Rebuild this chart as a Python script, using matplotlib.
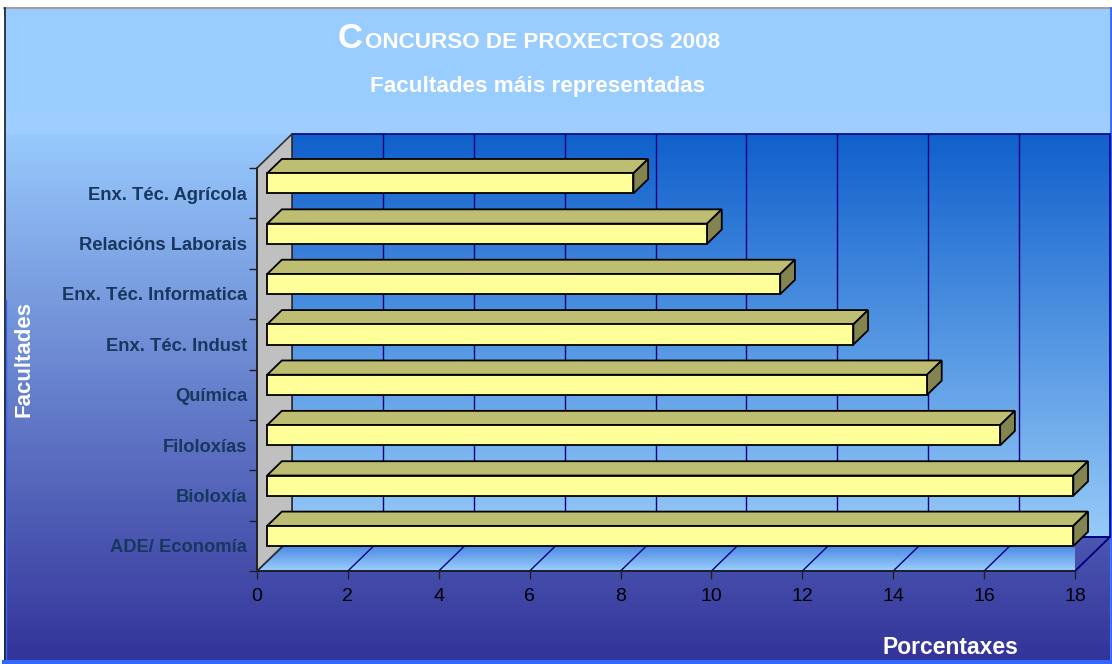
import numpy as np
import matplotlib
matplotlib.use('Agg')
import matplotlib.pyplot as plt
from matplotlib.patches import Polygon, Rectangle
from matplotlib.colors import to_rgb

plt.rcParams['font.family'] = ['Liberation Sans', 'DejaVu Sans']

# data (bottom to top, as drawn)
categories = ['ADE/ Economía', 'Bioloxía', 'Filoloxías', 'Química',
              'Enx. Téc. Indust', 'Enx. Téc. Informatica',
              'Relacións Laborais', 'Enx. Téc. Agrícola']
values = [17.74, 17.74, 16.13, 14.52, 12.90, 11.29, 9.68, 8.06]
xticks = [0, 2, 4, 6, 8, 10, 12, 14, 16, 18]

W, H = 1112, 664
fig = plt.figure(figsize=(W / 100, H / 100), dpi=100)
fig.patch.set_facecolor('white')


def vgrad(c_top, c_bot, n=256):
    a, b = np.array(to_rgb(c_top)), np.array(to_rgb(c_bot))
    t = np.linspace(0, 1, n)[:, None]
    return (a + (b - a) * t)[:, None, :]


# --- chart area background (pixel space) ---
bg = fig.add_axes([0, 0, 1, 1], zorder=0)
bg.set_xlim(0, W)
bg.set_ylim(H, 0)
bg.axis('off')
rows = np.arange(8, 661)
top_c, bot_c = np.array(to_rgb('#99CCFF')), np.array(to_rgb('#333399'))
t = np.clip((rows - 125) / (661 - 125), 0, 1)[:, None]
img = (top_c + (bot_c - top_c) * t)[:, None, :]
bg.imshow(img, extent=(4, 1110, 661, 8), aspect='auto', zorder=0)
bg.add_patch(Rectangle((4, 112), 1106, 22, color='#9DCEFF', lw=0, zorder=1))
bg.plot([4, 1110], [7.5, 7.5], color='#A0A0A0', lw=1.5, zorder=2)
bg.plot([4.5, 4.5], [8, 661], color='#202020', lw=1.2, zorder=2)
bg.plot([6, 6], [300, 661], color='#3366FF', lw=1.0, zorder=2)
bg.plot([4, 1112], [662, 662], color='#3366FF', lw=3, zorder=2)
bg.plot([1111, 1111], [8, 664], color='#3366FF', lw=2, zorder=2)

# --- main axes: front plane of the 3D box ---
ax = fig.add_axes([257 / W, (H - 571) / H, 818 / W, 403 / H], zorder=2)
ax.set_autoscale_on(False)
ax.set_xlim(0, 18)
ax.set_ylim(-0.5, 7.5)
ax.patch.set_visible(False)

DX = 35 / 818 * 18     # depth offset in x units
DY = 34 / 403 * 8      # depth offset in category units
y0, y1 = -0.5, len(categories) - 0.5
NAVY = '#000080'

# back wall
wall = ax.imshow(vgrad('#1060CC', '#96CAF8'), extent=(DX, 18 + DX, y0 + DY, y1 + DY),
                 aspect='auto', origin='upper', zorder=1)
wall.set_clip_on(False)
ax.add_patch(Polygon([(DX, y0 + DY), (18 + DX, y0 + DY), (18 + DX, y1 + DY), (DX, y1 + DY)],
                     closed=True, fill=False, ec=NAVY, lw=1.2, clip_on=False, zorder=2))
for x in xticks[1:-1]:
    ax.plot([x + DX, x + DX], [y0 + DY, y1 + DY], color=NAVY, lw=1, clip_on=False, zorder=2)

# floor
floor_poly = Polygon([(0, y0), (18, y0), (18 + DX, y0 + DY), (DX, y0 + DY)],
                     closed=True, transform=ax.transData)
fl = ax.imshow(vgrad('#2F6FDA', '#9CD0FB'), extent=(0, 18 + DX, y0, y0 + DY),
               aspect='auto', origin='upper', zorder=1)
fl.set_clip_path(floor_poly)
ax.add_patch(Polygon([(0, y0), (18, y0), (18 + DX, y0 + DY), (DX, y0 + DY)],
                     closed=True, fill=False, ec=NAVY, lw=1.2, clip_on=False, zorder=2))
for x in xticks:
    ax.plot([x, x + DX], [y0, y0 + DY], color=NAVY, lw=1, clip_on=False, zorder=2)

# side wall
ax.add_patch(Polygon([(0, y0), (DX, y0 + DY), (DX, y1 + DY), (0, y1)],
                     closed=True, fc='#C0C0C0', ec='#303030', lw=1.2,
                     clip_on=False, zorder=3))

# bars
f1, f2, h = 0.29, 0.71, 0.2
for i, v in enumerate(values):
    a1, b1 = f1 * DX, f1 * DY
    a2, b2 = f2 * DX, f2 * DY
    top = Polygon([(a1, i + h + b1), (v + a1, i + h + b1),
                   (v + a2, i + h + b2), (a2, i + h + b2)],
                  closed=True, fc='#BEBE72', ec='black', lw=1.3, clip_on=False, zorder=5)
    side = Polygon([(v + a1, i - h + b1), (v + a2, i - h + b2),
                    (v + a2, i + h + b2), (v + a1, i + h + b1)],
                   closed=True, fc='#848450', ec='black', lw=1.3, clip_on=False, zorder=5)
    front = Rectangle((a1, i - h + b1), v, 2 * h, fc='#FFFF99', ec='black',
                      lw=1.3, clip_on=False, zorder=6)
    for p in (top, side, front):
        ax.add_patch(p)

# axes styling
for s in ('top', 'right'):
    ax.spines[s].set_visible(False)
for s in ('left', 'bottom'):
    ax.spines[s].set_color('#202020')
    ax.spines[s].set_linewidth(1.2)
    ax.spines[s].set_zorder(4)

ax.set_xticks(xticks)
ax.set_xticklabels([str(x) for x in xticks])
ax.tick_params(axis='x', length=6, width=1, color='#202020', pad=6,
               labelsize=14, labelcolor='black')
ax.set_yticks(range(len(categories)))
ax.set_yticklabels(categories, fontweight='bold', color='#17375E')
ax.set_yticks(np.arange(y0, y1 + 0.1, 1), minor=True)
ax.tick_params(axis='y', which='major', length=0, pad=7, labelsize=13.2)
ax.tick_params(axis='y', which='minor', length=6, width=1, color='#202020')

# titles
fig.text(338 / W, 1 - 48 / H, 'C', fontsize=25, fontweight='bold', color='white',
         ha='left', va='baseline')
fig.text(365 / W, 1 - 48 / H, 'ONCURSO DE PROXECTOS 2008', fontsize=16.2,
         fontweight='bold', color='white', ha='left', va='baseline')
fig.text(538 / W, 1 - 92 / H, 'Facultades máis representadas', fontsize=16.2,
         fontweight='bold', color='white', ha='center', va='baseline')
fig.text(24 / W, 1 - 359 / H, 'Facultades', fontsize=16, fontweight='bold',
         color='white', rotation=90, ha='center', va='center')
fig.text(950 / W, 1 - 648 / H, 'Porcentaxes', fontsize=16.5, fontweight='bold',
         color='white', ha='center', va='center')

fig.savefig('out.png', dpi=100)
